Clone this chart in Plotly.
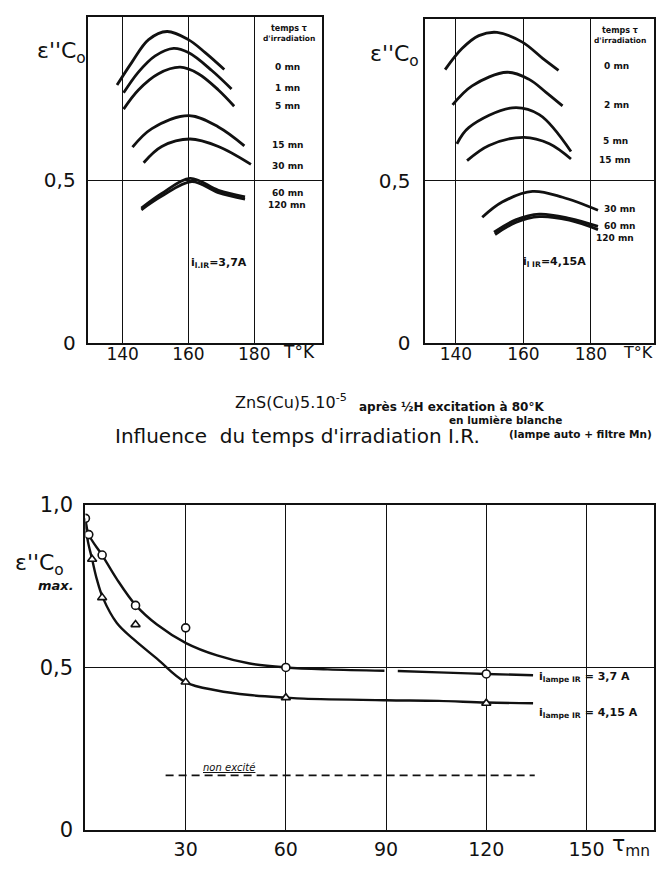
import plotly.graph_objects as go

W, H = 656, 872

# ---------------- data: top-left panel (i = 3,7 A) ----------------
left_labels = ["0 mn", "1 mn", "5 mn", "15 mn", "30 mn", "60 mn", "120 mn"]
left_T = [
    [138.3, 142.8, 147.9, 153.5, 160.0, 165.1, 170.9],
    [140.3, 144.8, 149.9, 155.5, 160.0, 167.1, 173.1],
    [140.3, 144.8, 150.9, 157.5, 163.0, 169.1, 173.9],
    [143.0, 148.9, 160.2, 169.1, 177.0],
    [146.4, 151.9, 160.5, 169.1, 179.0],
    [145.7, 151.9, 160.5, 169.1, 177.2],
    [145.7, 151.9, 161.0, 169.1, 177.2],
]
left_E = [
    [0.793, 0.863, 0.933, 0.958, 0.933, 0.893, 0.841],
    [0.769, 0.833, 0.883, 0.906, 0.893, 0.838, 0.781],
    [0.719, 0.778, 0.828, 0.848, 0.828, 0.778, 0.728],
    [0.602, 0.659, 0.699, 0.664, 0.606],
    [0.554, 0.604, 0.627, 0.604, 0.549],
    [0.414, 0.459, 0.506, 0.469, 0.449],
    [0.409, 0.451, 0.496, 0.462, 0.442],
]

# ---------------- data: top-right panel (i = 4,15 A) ----------------
right_labels = ["0 mn", "2 mn", "5 mn", "15 mn", "30 mn", "60 mn", "120 mn"]
right_T = [
    [136.8, 141.8, 146.8, 152.2, 159.7, 165.7, 170.4],
    [139.0, 144.8, 155.2, 161.7, 166.7, 171.6],
    [140.3, 143.8, 156.7, 164.7, 174.1],
    [143.3, 149.8, 160.2, 167.7, 174.1],
    [147.8, 153.7, 162.7, 171.6, 182.1],
    [151.3, 157.7, 164.7, 173.6, 182.1],
    [151.6, 157.7, 164.7, 173.6, 182.1],
]
right_E = [
    [0.843, 0.908, 0.948, 0.958, 0.928, 0.878, 0.841],
    [0.734, 0.793, 0.835, 0.813, 0.773, 0.731],
    [0.614, 0.664, 0.725, 0.704, 0.590],
    [0.562, 0.609, 0.634, 0.614, 0.567],
    [0.387, 0.434, 0.467, 0.449, 0.409],
    [0.341, 0.379, 0.397, 0.384, 0.359],
    [0.334, 0.371, 0.389, 0.378, 0.349],
]

# ---------------- data: bottom panel (max vs irradiation time) ----------------
tau_circles = [0, 1, 5, 15, 30, 60, 120]
E_circles = [0.959, 0.909, 0.846, 0.691, 0.622, 0.500, 0.480]
tau_triangles = [2, 5, 15, 30, 60, 120]
E_triangles = [0.833, 0.715, 0.632, 0.455, 0.407, 0.390]

tau_curve_37 = [0, 1, 5, 9.4, 15.1, 21.4, 30.1, 39.4, 49.2, 60, 72.5, 89.5, None, 93.5, 105.7, 120, 134]
E_curve_37 = [0.959, 0.909, 0.846, 0.772, 0.691, 0.632, 0.575, 0.537, 0.512, 0.500, 0.494, 0.490, None, 0.489, 0.485, 0.480, 0.476]
tau_curve_415 = [0, 0.6, 2, 3.4, 5.2, 9.4, 14.4, 21.4, 29.9, 39.4, 49.2, 60, 65.3, 90, 105.7, 120, 134]
E_curve_415 = [0.959, 0.896, 0.833, 0.772, 0.715, 0.637, 0.587, 0.527, 0.455, 0.429, 0.415, 0.407, 0.404, 0.399, 0.397, 0.392, 0.390]

tau_non_excite = [24, 134.5]
E_non_excite = [0.168, 0.168]

FONT = "DejaVu Sans"
INK = "#111111"


def px(x):
    return x / W


def py(y):
    return 1 - y / H


fig = go.Figure()

for T, E in zip(left_T, left_E):
    fig.add_trace(go.Scatter(x=T, y=E, mode="lines", line=dict(color=INK, width=2.8, shape="spline"),
                             xaxis="x", yaxis="y", showlegend=False, hoverinfo="skip"))
for T, E in zip(right_T, right_E):
    fig.add_trace(go.Scatter(x=T, y=E, mode="lines", line=dict(color=INK, width=2.8, shape="spline"),
                             xaxis="x2", yaxis="y2", showlegend=False, hoverinfo="skip"))

fig.add_trace(go.Scatter(x=tau_curve_37, y=E_curve_37, mode="lines",
                         line=dict(color=INK, width=2.4, shape="spline"),
                         xaxis="x3", yaxis="y3", showlegend=False, connectgaps=False))
fig.add_trace(go.Scatter(x=tau_curve_415, y=E_curve_415, mode="lines",
                         line=dict(color=INK, width=2.4, shape="spline"),
                         xaxis="x3", yaxis="y3", showlegend=False))
fig.add_trace(go.Scatter(x=tau_non_excite, y=E_non_excite, mode="lines",
                         line=dict(color=INK, width=1.8, dash="8px,5px"),
                         xaxis="x3", yaxis="y3", showlegend=False))
fig.add_trace(go.Scatter(x=tau_circles, y=E_circles, mode="markers",
                         marker=dict(symbol="circle", size=8, color="white", line=dict(color=INK, width=1.6)),
                         xaxis="x3", yaxis="y3", showlegend=False))
fig.add_trace(go.Scatter(x=tau_triangles, y=E_triangles, mode="markers",
                         marker=dict(symbol="triangle-up", size=8, color="white", line=dict(color=INK, width=1.6)),
                         xaxis="x3", yaxis="y3", showlegend=False))

axis_common = dict(showgrid=True, gridcolor=INK, gridwidth=1.3, showline=True, linecolor=INK,
                   linewidth=2.2, mirror=True, ticks="", zeroline=False,
                   tickfont=dict(family=FONT, size=17, color=INK))

fig.update_layout(
    width=W, height=H,
    margin=dict(l=0, r=0, t=0, b=0),
    paper_bgcolor="white", plot_bgcolor="white",
    xaxis=dict(axis_common, domain=[px(88), px(323)], range=[129.4, 200.6],
               tickvals=[140, 160, 180], anchor="y", ticklabelstandoff=-5),
    yaxis=dict(axis_common, domain=[py(340), py(5)], range=[0, 1.003],
               tickvals=[0, 0.5], ticktext=["0", "0,5"], anchor="x",
               tickfont=dict(family=FONT, size=20, color=INK), ticklabelstandoff=6),
    xaxis2=dict(axis_common, domain=[px(426), 1.0], range=[130.75, 198.7],
                tickvals=[140, 160, 180], anchor="y2", ticklabelstandoff=-5),
    yaxis2=dict(axis_common, domain=[py(340), py(7)], range=[0, 1.0],
                tickvals=[0, 0.5], ticktext=["0", "0,5"], anchor="x2",
                tickfont=dict(family=FONT, size=20, color=INK), ticklabelstandoff=8),
    xaxis3=dict(axis_common, domain=[px(85.7), 1.0], range=[0, 170.2],
                tickvals=[30, 60, 90, 120, 150], anchor="y3", ticklabelstandoff=1,
                tickfont=dict(family=FONT, size=19, color=INK)),
    yaxis3=dict(axis_common, domain=[py(841), py(507)], range=[0, 1.0],
                tickvals=[0, 0.5, 1.0], ticktext=["0", "0,5", "1,0"], anchor="x3",
                tickfont=dict(family=FONT, size=21, color=INK), ticklabelstandoff=6),
)

ann = []


def add_text(x, y, text, size, xanchor="center", bold=False, italic=False):
    if bold:
        text = "<b>" + text + "</b>"
    if italic:
        text = "<i>" + text + "</i>"
    ann.append(dict(x=px(x), y=py(y), xref="paper", yref="paper", text=text, showarrow=False,
                    xanchor=xanchor, yanchor="middle",
                    font=dict(family=FONT, size=size, color=INK)))


# Top-left legend column
add_text(290, 17, "temps τ", 8, bold=True)
add_text(290, 27, "d'irradiation", 7.5, bold=True)
left_label_y = [57, 78, 97, 137, 158, 186, 198]
for lab, yy in zip(left_labels, left_label_y):
    add_text(288, yy, lab, 9, bold=True)
# Top-right legend column
add_text(622, 19, "temps τ", 8, bold=True)
add_text(622, 29, "d'irradiation", 7.5, bold=True)
right_label_y = [56, 96, 133, 152, 203, 220, 232]
right_label_x = [618, 618, 617, 616, 621, 621, 617]
for lab, xx, yy in zip(right_labels, right_label_x, right_label_y):
    add_text(xx, yy, lab, 9, bold=True)

# axis titles
add_text(62, 42, "ε''C<sub>o</sub>", 22)
add_text(300, 350, "T°K", 17)
add_text(396, 45, "ε''C<sub>o</sub>", 22)
add_text(623, 350, "T°K", 16, xanchor="left")
add_text(40, 568, "ε''C<sub>o</sub>", 22)
add_text(56, 590, "max.", 13, bold=True, italic=True)
add_text(612, 857, "τ<sub>mn</sub>", 22, xanchor="left")

# currents
add_text(220, 258, "i<sub>l.IR</sub>=3,7A", 11, bold=True)
add_text(556, 257, "i<sub>l IR</sub>=4,15A", 11, bold=True)
add_text(539, 684, "i<sub>lampe IR</sub> = 3,7 A", 11, xanchor="left", bold=True)
add_text(539, 721, "i<sub>lampe IR</sub> = 4,15 A", 11, xanchor="left", bold=True)
add_text(230, 777, "<u>non excité</u>", 10, italic=True)

# titles
add_text(234, 401, "ZnS(Cu)5.10<sup>-5</sup>", 16, xanchor="left")
add_text(358, 406, "après ½H excitation à 80°K", 12, xanchor="left", bold=True)
add_text(448, 420, "en lumière blanche", 10.5, xanchor="left", bold=True)
add_text(113, 436, "Influence  du temps d'irradiation I.R.", 20, xanchor="left")
add_text(509, 434, "(lampe auto + filtre Mn)", 10.5, xanchor="left", bold=True)

fig.update_layout(annotations=ann)

fig.write_html("out.html")
